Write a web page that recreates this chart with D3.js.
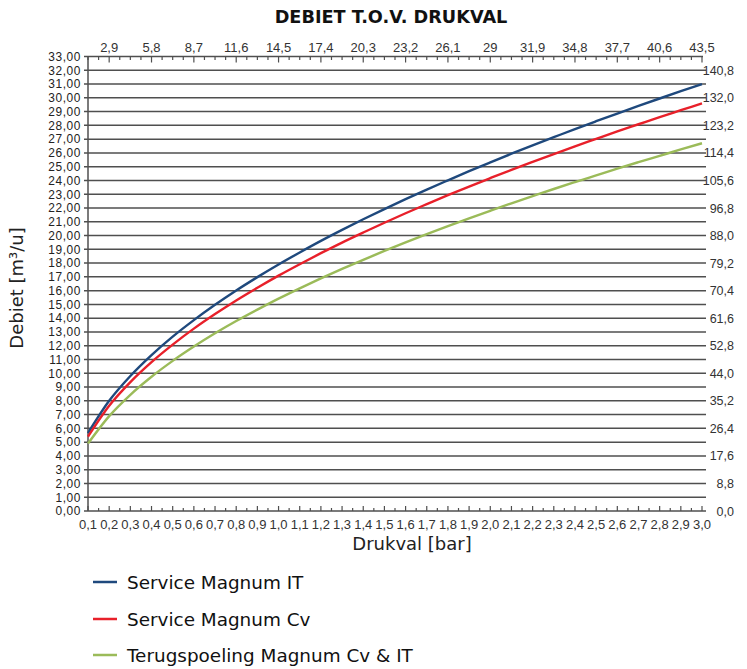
<!DOCTYPE html>
<html>
<head>
<meta charset="utf-8">
<script src="https://cdn.jsdelivr.net/npm/d3@7"></script>
<style>
  html, body { margin: 0; padding: 0; background: #ffffff; }
  svg { display: block; }
</style>
</head>
<body>
<svg id="chart" width="747" height="669"></svg>
<script>
// ---- data ----
const pressures = [0.1,0.2,0.3,0.4,0.5,0.6,0.7,0.8,0.9,1.0,1.1,1.2,1.3,1.4,1.5,1.6,1.7,1.8,1.9,2.0,2.1,2.2,2.3,2.4,2.5,2.6,2.7,2.8,2.9,3.0];
const serviceIT = [5.66,8.00,9.80,11.32,12.66,13.86,14.97,16.01,16.98,17.90,18.77,19.61,20.41,21.18,21.92,22.64,23.34,24.01,24.67,25.31,25.94,26.55,27.14,27.73,28.30,28.86,29.41,29.95,30.48,31.00];
const serviceCv = [5.40,7.64,9.36,10.81,12.08,13.24,14.30,15.29,16.21,17.09,17.92,18.72,19.49,20.22,20.93,21.62,22.28,22.93,23.56,24.17,24.77,25.35,25.92,26.48,27.02,27.56,28.08,28.60,29.10,29.60];
const terugspoeling = [4.90,6.89,8.44,9.75,10.90,11.94,12.90,13.79,14.62,15.42,16.17,16.89,17.58,18.24,18.88,19.50,20.10,20.68,21.25,21.80,22.34,22.86,23.38,23.88,24.37,24.86,25.33,25.79,26.25,26.70];
const seriesNames = ["Service Magnum IT", "Service Magnum Cv", "Terugspoeling Magnum Cv & IT"];
const seriesColors = ["#1f497d", "#e8202a", "#9bbb59"];
const topTickBar = [0.2,0.4,0.6,0.8,1.0,1.2,1.4,1.6,1.8,2.0,2.2,2.4,2.6,2.8,3.0];
const topTickLabels = ["2,9","5,8","8,7","11,6","14,5","17,4","20,3","23,2","26,1","29","31,9","34,8","37,7","40,6","43,5"];
const rightTickValues = [0,8.8,17.6,26.4,35.2,44.0,52.8,61.6,70.4,79.2,88.0,96.8,105.6,114.4,123.2,132.0,140.8];
const chartTitle = "DEBIET T.O.V. DRUKVAL";
const xTitle = "Drukval [bar]";
const yTitle = "Debiet [m³/u]";

// ---- layout ----
const svg = d3.select("#chart");
const pL = 88, pR = 702, pT = 56.5, pB = 511;
const x = d3.scaleLinear().domain([0.1, 3.0]).range([pL, pR]);
const y = d3.scaleLinear().domain([0, 33]).range([pB, pT]);
const yR = d3.scaleLinear().domain([0, 145.2]).range([pB, pT]);
const gridColor = "#4f4f4f";
const tickFont = "'Liberation Sans', Arial, sans-serif";
const textFont = "'DejaVu Sans', sans-serif";
const comma = s => s.replace(".", ",");

// title
svg.append("text").attr("x", 391).attr("y", 23).attr("text-anchor", "middle")
  .attr("font-family", textFont).attr("font-weight", "bold").attr("font-size", 17.7)
  .attr("fill", "#111").text(chartTitle);

// horizontal gridlines (every integer) extending past plot to right
const yInts = d3.range(0, 33);
svg.append("g").selectAll("line").data(yInts).join("line")
  .attr("x1", pL - 4).attr("x2", pR + 4)
  .attr("y1", d => y(d)).attr("y2", d => y(d))
  .attr("stroke", gridColor).attr("stroke-width", 1.5);

// top axis line
svg.append("line").attr("x1", pL - 4).attr("x2", pR + 1)
  .attr("y1", y(33)).attr("y2", y(33)).attr("stroke", gridColor).attr("stroke-width", 1.5);
// left axis line
svg.append("line").attr("x1", pL).attr("x2", pL)
  .attr("y1", y(33)).attr("y2", y(0)).attr("stroke", gridColor).attr("stroke-width", 1.5);

// left labels
const fmt2 = d3.format(".2f");
svg.append("g").selectAll("text").data(d3.range(0, 34)).join("text")
  .attr("x", 81).attr("y", d => y(d)).attr("dy", "0.36em").attr("text-anchor", "end")
  .attr("font-family", tickFont).attr("font-size", 11.9).attr("letter-spacing", 0.6)
  .attr("fill", "#222").text(d => comma(fmt2(d)));

// right labels
const fmt1 = d3.format(".1f");
svg.append("g").selectAll("text").data(rightTickValues).join("text")
  .attr("x", 734).attr("y", d => yR(d)).attr("dy", "0.36em").attr("text-anchor", "end")
  .attr("font-family", tickFont).attr("font-size", 12.5).attr("fill", "#333")
  .text(d => comma(fmt1(d)));

// bottom ticks (every 0.05 bar, taller at label positions)
const fineTicks = d3.range(0, 59).map(i => 0.1 + i * 0.05);
svg.append("g").selectAll("line").data(fineTicks).join("line")
  .attr("x1", d => x(d)).attr("x2", d => x(d))
  .attr("y1", pB).attr("y2", (d, i) => pB - (i % 2 === 0 ? 5 : 3))
  .attr("stroke", gridColor).attr("stroke-width", 1.2);
// bottom labels
svg.append("g").selectAll("text").data(pressures).join("text")
  .attr("x", d => x(d)).attr("y", 528.5).attr("text-anchor", "middle")
  .attr("font-family", tickFont).attr("font-size", 13).attr("fill", "#333")
  .text(d => comma(fmt1(d)));

// top ticks (every 0.05 bar, major every 0.2 bar)
svg.append("g").selectAll("line").data(fineTicks).join("line")
  .attr("x1", d => x(d)).attr("x2", d => x(d))
  .attr("y1", pT).attr("y2", (d, i) => pT + ((i + 2) % 4 === 0 ? 6 : 3.5))
  .attr("stroke", gridColor).attr("stroke-width", 1.2);
svg.append("g").selectAll("text").data(topTickBar).join("text")
  .attr("x", d => x(d)).attr("y", 52).attr("text-anchor", "middle")
  .attr("font-family", tickFont).attr("font-size", 13).attr("fill", "#333")
  .text((d, i) => topTickLabels[i]);

// series
const allSeries = [serviceIT, serviceCv, terugspoeling];
const line = d3.line().x((d, i) => x(pressures[i])).y(d => y(d)).curve(d3.curveMonotoneX);
svg.append("g").selectAll("path").data(allSeries).join("path")
  .attr("d", d => line(d)).attr("fill", "none")
  .attr("stroke", (d, i) => seriesColors[i]).attr("stroke-width", 2.4);

// axis titles
svg.append("text").attr("transform", "translate(23,288) rotate(-90)").attr("text-anchor", "middle")
  .attr("font-family", textFont).attr("font-size", 18).attr("fill", "#222").text(yTitle);
svg.append("text").attr("x", 412).attr("y", 549.5).attr("text-anchor", "middle")
  .attr("font-family", textFont).attr("font-size", 18).attr("fill", "#222").text(xTitle);

// legend
const legY = [582, 619, 655];
const leg = svg.append("g").selectAll("g").data(seriesNames).join("g")
  .attr("transform", (d, i) => `translate(0,${legY[i]})`);
leg.append("line").attr("x1", 93).attr("x2", 117).attr("y1", 0).attr("y2", 0)
  .attr("stroke", (d, i) => seriesColors[i]).attr("stroke-width", 2.5);
leg.append("text").attr("x", 127).attr("y", 6.5)
  .attr("font-family", textFont).attr("font-size", 18.4).attr("fill", "#111").text(d => d);
</script>
</body>
</html>
